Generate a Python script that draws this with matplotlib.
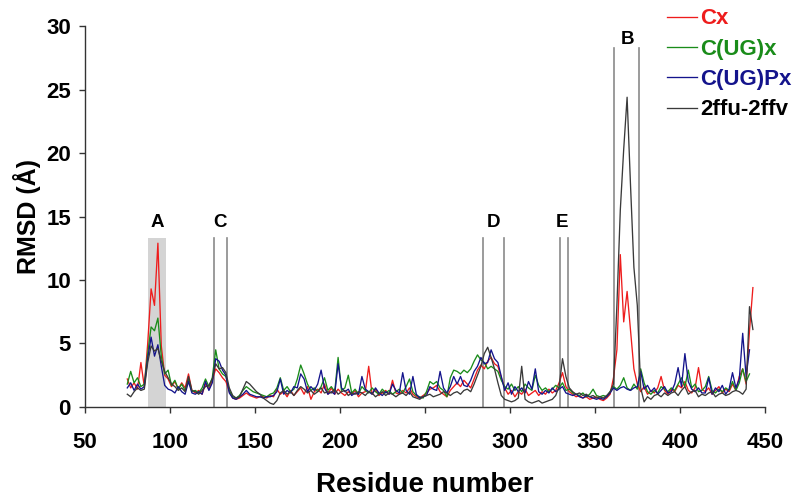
import numpy as np
import matplotlib
matplotlib.use("Agg")
import matplotlib.pyplot as plt

# ---- data (residue numbers, step 2) ----
residues = np.arange(75, 444, 2)

cx = [
    2.2, 1.5, 1.9, 1.4, 3.5, 1.6, 5.0, 9.3, 8.0, 12.9,
    4.8, 2.5, 2.2, 1.6, 2.0, 1.4, 1.9, 1.5, 2.6, 1.3,
    1.1, 1.3, 1.0, 1.8, 1.4, 2.1, 3.0, 2.7, 2.3, 2.0,
    1.2, 0.7, 0.6, 0.7, 0.9, 1.1, 0.9, 0.8, 0.7, 0.8,
    0.8, 0.7, 0.9, 0.8, 1.4, 1.0, 1.2, 0.8, 1.3, 0.9,
    1.2, 1.5, 1.0, 1.6, 0.6, 1.2, 1.4, 1.1, 1.8, 1.0,
    1.5, 1.0, 1.4, 1.1, 0.9, 1.2, 1.0, 1.3, 0.8, 1.1,
    1.2, 3.2, 1.0, 1.4, 0.9, 1.1, 1.3, 1.0, 2.1, 1.1,
    1.0, 1.3, 1.1, 1.5, 1.0, 0.8, 0.7, 0.9, 1.1, 1.4,
    1.5, 1.7, 1.2, 1.0, 0.8, 1.3, 1.6, 1.9, 1.6, 2.1,
    1.8, 1.5, 2.2, 2.9, 3.3, 3.0, 3.6, 3.9, 3.4, 3.2,
    2.3, 1.5, 1.0, 1.3, 0.8, 1.2, 1.0, 1.4, 0.9, 1.1,
    1.3, 0.9, 1.2, 1.0, 1.4, 1.1, 1.3, 1.9, 2.7, 1.6,
    1.2, 1.0, 0.8, 0.9, 0.7, 0.8, 0.6, 0.7, 0.8, 0.6,
    0.5, 0.7, 1.0, 2.3, 4.5, 12.0, 6.7, 9.1, 6.0, 3.0,
    1.8, 1.2, 1.6, 1.0, 1.3, 1.1, 1.5, 2.4, 1.3, 1.0,
    1.4, 1.2, 1.7, 1.5, 2.0, 1.3, 1.1, 1.5, 3.1, 1.4,
    1.2, 1.5, 1.0, 1.3, 1.6, 1.1, 1.4, 1.2, 1.8, 1.3,
    2.4, 3.0, 1.8, 6.0, 9.4,
]

cugx = [
    1.8, 2.8, 1.9, 2.3, 1.6, 1.8, 4.2, 6.3, 6.0, 7.0,
    4.0, 2.6, 2.9, 1.7, 2.1, 1.4, 1.8, 1.3, 2.2, 1.2,
    1.3, 1.1, 1.5, 2.2, 1.6, 2.3, 4.5, 3.0, 2.6, 2.4,
    1.3, 0.8, 0.7, 0.9, 1.3, 1.6, 1.4, 1.2, 1.1, 1.0,
    0.9, 0.8, 1.0, 1.1, 1.5, 2.3, 1.3, 1.6, 1.2, 1.4,
    2.2, 3.3, 2.6, 1.8, 1.3, 1.5, 1.2, 1.6, 2.3, 1.3,
    1.6, 1.2, 3.9, 1.3, 1.5, 2.5, 1.1, 1.4, 1.0, 1.6,
    1.3, 1.1, 1.5, 1.2, 1.0, 1.4, 1.1, 1.3, 1.0, 1.2,
    1.4, 1.1, 1.6, 2.2, 1.2, 0.9, 0.8, 0.7, 1.2, 2.0,
    1.8, 2.0, 1.5, 1.3, 0.8, 2.3, 2.9, 2.8, 2.6, 2.9,
    2.7, 3.0, 3.6, 4.1, 3.7, 3.5, 3.0, 3.2, 3.0, 2.8,
    2.1, 1.6, 1.4, 1.8, 1.3, 1.6, 1.2, 1.8, 1.5, 1.3,
    2.5, 1.7, 1.3, 1.5, 1.2, 1.4, 1.7, 1.5, 1.9, 1.3,
    1.4, 1.1, 1.0, 0.9, 1.1, 0.8, 1.0, 1.4, 0.9, 0.8,
    0.9, 0.8, 1.2, 1.6, 1.4, 1.7, 2.3, 1.5, 1.3, 1.8,
    1.4, 3.0, 1.9, 1.2, 1.0, 1.3, 1.1, 1.6, 1.4, 1.2,
    1.5, 1.3, 1.8, 2.3, 1.6, 2.9, 1.5, 1.8, 1.2, 1.3,
    1.6, 2.4, 1.3, 1.1, 1.4, 1.2, 1.5, 1.3, 2.0, 1.3,
    1.9, 3.0, 2.0, 2.6, np.nan,
]

cugpx = [
    1.5, 1.9, 1.3, 1.8, 1.4, 1.6, 3.8, 5.5, 4.0, 4.9,
    3.2, 1.7, 1.4, 1.3, 1.1, 1.6, 1.2, 1.0, 2.0, 1.1,
    1.0, 1.2, 1.0, 2.0, 1.3, 1.9, 3.8, 3.6, 2.9, 2.5,
    1.1, 0.7, 0.6, 0.8, 1.0, 1.3, 1.0, 0.9, 0.8, 0.8,
    0.7, 0.8, 0.8, 0.9, 1.2, 2.2, 1.0, 1.3, 1.1, 1.6,
    1.5, 2.6, 2.2, 1.2, 1.6, 1.3, 1.8, 2.9, 1.5, 1.0,
    1.2, 1.0, 3.4, 1.5, 1.2, 1.4, 0.9, 1.1, 1.0, 2.4,
    1.4, 1.2, 1.0, 1.5, 1.1, 0.9, 1.2, 1.0, 1.8, 1.3,
    1.1, 2.7, 1.3, 1.0, 2.4, 1.0, 0.7, 0.8, 0.9, 1.6,
    1.4, 1.3, 2.8, 1.5, 1.1, 1.6, 2.4, 1.8, 2.4, 1.7,
    1.6, 2.1, 2.8, 3.2, 3.9, 3.4, 3.5, 4.5, 3.8, 3.5,
    2.4, 1.3, 1.9, 1.0, 1.6, 1.2, 1.5, 1.1, 2.0, 1.4,
    3.0, 1.2, 1.0, 1.3, 1.1, 1.5, 1.2, 1.4, 1.6, 1.1,
    1.0, 0.9, 1.0, 0.8, 0.7, 0.9, 0.8, 0.7, 0.6, 0.7,
    0.6, 0.8, 1.1, 1.5, 1.3, 1.5, 1.6, 1.4, 1.3, 1.5,
    1.6, 2.8, 1.4, 1.7, 1.2, 1.5, 1.0, 1.3, 1.6, 1.1,
    1.2, 1.8, 3.1, 1.6, 4.2, 2.0, 1.4, 1.2, 1.5, 1.1,
    1.1, 2.3, 1.0, 1.5, 1.2, 1.7, 1.0, 1.4, 2.7, 1.5,
    2.2, 5.8, 2.4, 4.5, np.nan,
]

ffu_ffv = [
    1.0, 0.8, 1.2, 1.5, 1.3, 1.4, 3.5, 4.8, 4.4, 4.6,
    3.6, 2.8, 2.3, 1.8, 1.6, 1.3, 1.5, 1.2, 2.4, 1.3,
    1.2, 1.0, 1.3, 1.6, 1.7, 2.2, 3.4, 3.0, 3.1, 2.7,
    1.5, 0.9, 0.7, 0.8, 1.4, 2.0, 1.8, 1.5, 1.2, 1.0,
    0.7, 0.5, 0.3, 0.2, 0.5, 1.1, 1.3, 1.0, 1.2, 0.9,
    1.3, 1.6, 1.4, 1.1, 1.3, 1.0, 1.2, 1.5, 1.1, 1.2,
    1.1, 1.4, 1.0, 1.2, 1.3, 0.9, 1.1, 1.0, 1.2, 1.1,
    0.9, 1.2, 1.1, 0.8, 1.0, 1.2, 0.9, 1.1, 1.0, 0.8,
    1.0, 1.1, 0.9, 1.2, 0.8, 0.7, 0.6, 0.8, 0.9, 1.0,
    0.8, 0.9, 1.0, 1.2, 1.1, 0.9, 1.1, 1.2, 1.0, 1.3,
    1.4, 1.2, 1.8, 2.5, 3.2, 4.2, 4.7, 3.9, 3.0, 1.9,
    0.9, 0.6, 0.5, 0.4, 0.5, 0.7, 3.2, 0.6, 0.4, 0.3,
    0.4, 0.5, 0.3, 0.4, 0.5, 0.6, 0.9, 1.6, 3.8, 2.4,
    1.5, 1.2, 1.0, 1.1, 0.9, 1.0, 0.8, 0.9, 0.7, 0.8,
    0.7, 0.9, 1.2, 1.8, 8.0, 15.5, 20.3, 24.4, 17.5, 11.0,
    8.0, 1.5, 0.4, 0.8, 0.6, 0.9, 1.0, 0.8, 1.1, 0.9,
    1.1, 1.2, 0.9, 1.3, 1.6, 1.0, 1.2, 1.3, 0.8, 1.0,
    0.9, 1.1, 1.2, 0.8, 1.0, 1.1, 0.9, 1.0, 1.2, 1.3,
    1.2, 1.0, 1.4, 7.9, 6.1,
]

series_labels = ["Cx", "C(UG)x", "C(UG)Px", "2ffu-2ffv"]
series_colors = ["#ee1c1c", "#1a8c1a", "#14148c", "#3a3a3a"]
legend_text_colors = ["#ee1c1c", "#1a8c1a", "#14148c", "#000000"]

# Region markers
region_A = (87.0, 97.6)
region_A_top = 13.3
region_lines = [126.0, 133.7, 284.3, 296.6, 329.4, 334.0, 361.4, 376.0]
region_line_tops = [13.3, 13.3, 13.3, 13.3, 13.3, 13.3, 28.3, 28.3]
region_labels = ["A", "C", "D", "E", "B"]
region_label_x = [92.4, 129.4, 290.6, 330.6, 369.4]
region_label_y = [14.2, 14.2, 14.2, 14.2, 28.6]

xticks = [50, 100, 150, 200, 250, 300, 350, 400, 450]
yticks = [0, 5, 10, 15, 20, 25, 30]

plt.rcParams['font.family'] = ['Liberation Sans', 'DejaVu Sans']
plt.rcParams['font.weight'] = 'bold'

fig = plt.figure(figsize=(8.0, 5.03), dpi=100)
ax = fig.add_axes([0.106, 0.191, 0.85, 0.757])

ax.fill_between(region_A, 0, region_A_top, color="#d4d4d4", lw=0, zorder=1)
for xv, top in zip(region_lines, region_line_tops):
    ax.plot([xv, xv], [0, top], color="#8a8a8a", lw=1.2, zorder=2)
for lab, lx, ly in zip(region_labels, region_label_x, region_label_y):
    ax.text(lx, ly, lab, ha="center", va="baseline", fontsize=13.5,
            fontweight="bold", color="black")

data = [cx, cugx, cugpx, ffu_ffv]
order = [3, 0, 1, 2]
handles = {}
for i in order:
    h, = ax.plot(residues, data[i], color=series_colors[i], lw=0.95, zorder=3 + i)
    handles[i] = h

ax.set_xlim(50, 450)
ax.set_ylim(0, 30)
ax.set_xticks(xticks)
ax.set_yticks(yticks)
ax.spines['top'].set_visible(False)
ax.spines['right'].set_visible(False)
for s in ['left', 'bottom']:
    ax.spines[s].set_linewidth(1.0)
    ax.spines[s].set_color("#333333")
ax.tick_params(axis='both', direction='out', length=4, width=1.0, color="#333333", labelsize=16)
ax.tick_params(axis='x', pad=14)
ax.tick_params(axis='y', pad=6)
for t in ax.get_xticklabels() + ax.get_yticklabels():
    t.set_fontweight('bold')

ax.set_xlabel("Residue number", fontsize=20, fontweight="bold", labelpad=14)
ax.set_ylabel("RMSD (Å)", fontsize=18, fontweight="bold", labelpad=4)

leg = ax.legend([handles[i] for i in range(4)], series_labels, loc="upper left",
                bbox_to_anchor=(0.828, 0.992), bbox_transform=fig.transFigure,
                frameon=False, fontsize=16, handlelength=1.35, handletextpad=0.15,
                labelspacing=0.42, borderaxespad=0.0, borderpad=0.2)
for txt, c in zip(leg.get_texts(), legend_text_colors):
    txt.set_color(c)
    txt.set_fontweight("bold")

fig.savefig("out.png", dpi=100)
